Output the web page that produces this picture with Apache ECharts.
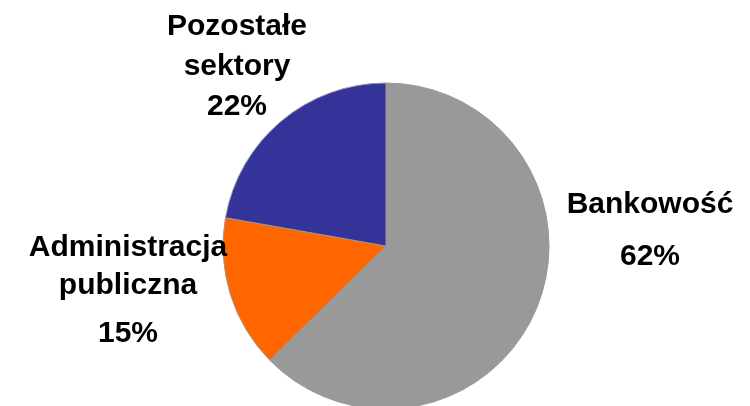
<!DOCTYPE html>
<html>
<head>
<meta charset="utf-8">
<script src="https://cdn.jsdelivr.net/npm/echarts@6/dist/echarts.min.js"></script>
<style>
  html, body { margin: 0; padding: 0; background: #fff; }
  #chart { width: 750px; height: 406px; }
</style>
</head>
<body>
<div id="chart"></div>
<script>
var sectors = ['Bankowość', 'Administracja publiczna', 'Pozostałe sektory'];
var shares = [62, 15, 22];
var labelLines = [['Bankowość'], ['Administracja', 'publiczna'], ['Pozostałe', 'sektory']];
var colors = ['#999999', '#ff6600', '#333399'];

// where each label block sits (text centre)
var labelPos = [[650, 231], [128, 296], [237, 67]];
// line heights per label: [name lines, percent line]
var lineHeights = [[52, 52], [38, 58], [40, 40]];

var FONT = 'Liberation Sans, Arial, sans-serif';

var chart = echarts.init(document.getElementById('chart'));

function textStyle(lh) {
    return { fontFamily: FONT, fontWeight: 'bold', fontSize: 30, color: '#000', lineHeight: lh, align: 'center' };
}

var data = sectors.map(function (name, i) {
    return {
        name: name,
        value: shares[i],
        itemStyle: { color: colors[i] },
        label: { rich: { n: textStyle(lineHeights[i][0]), p: textStyle(lineHeights[i][1]) } }
    };
});

chart.setOption({
    animation: false,
    series: [{
        type: 'pie',
        center: [386, 246],
        radius: 163,
        startAngle: 90,
        clockwise: true,
        itemStyle: { borderColor: '#999999', borderWidth: 1 },
        labelLine: { show: false },
        emphasis: { disabled: true },
        label: {
            show: true,
            position: 'outside',
            align: 'center',
            overflow: 'none',
            formatter: function (p) {
                var lines = labelLines[p.dataIndex].map(function (t) { return '{n|' + t + '}'; });
                return lines.join('\n') + '\n{p|' + shares[p.dataIndex] + '%}';
            }
        },
        labelLayout: function (params) {
            var pos = labelPos[params.dataIndex];
            return { x: pos[0], y: pos[1], align: 'center', verticalAlign: 'middle' };
        },
        data: data
    }]
});

window.addEventListener('resize', function () { chart.resize(); });
</script>
</body>
</html>
